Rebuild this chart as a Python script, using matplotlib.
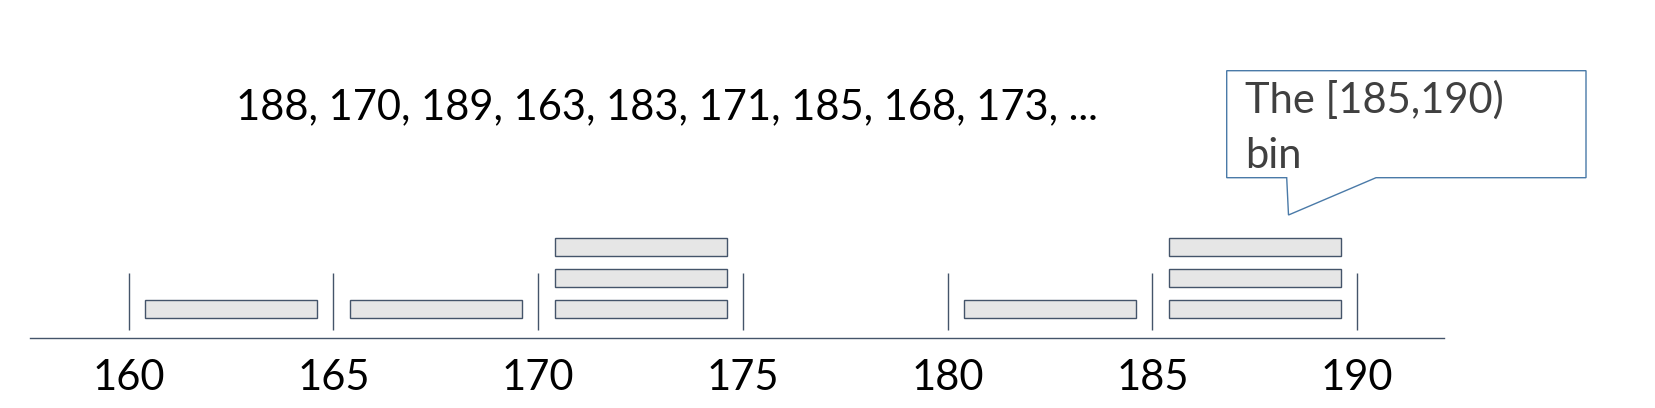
import numpy as np
import matplotlib
matplotlib.use('Agg')
import matplotlib.pyplot as plt
from matplotlib.patches import Polygon

# data
bin_edges = [160, 165, 170, 175, 180, 185, 190]
bin_counts = [1, 1, 3, 0, 1, 3]
sample_text = '188, 170, 189, 163, 183, 171, 185, 168, 173, ...'
callout_text = 'The [185,190)\nbin'
callout_bin = 5

plt.rcParams['font.family'] = ['Lato', 'DejaVu Sans']

W, H = 1656, 408
fig = plt.figure(figsize=(W / 100, H / 100), dpi=100)
ax = fig.add_axes([0, 0, 1, 1])
ax.set_axis_off()

# x in data units (cm), y in pixels from bottom
unit = (1357 - 128.8) / 30.0
x0 = bin_edges[0] - 128.8 / unit
ax.set_xlim(x0, x0 + W / unit)
ax.set_ylim(0, H)

def px(xp):
    return x0 + xp / unit

line_col = '#44546a'

# axis line
ax.plot([px(30), px(1444)], [70, 70], color=line_col, lw=1.0)

# bin edge ticks
ax.vlines(bin_edges, 78.5, 135.5, color=line_col, lw=1.0)
for e in bin_edges:
    ax.text(e, 30, str(e), ha='center', va='center', fontsize=30, color='black')

# stacked boxes, one per observation
for i, c in enumerate(bin_counts):
    for k in range(c):
        ax.bar(bin_edges[i] + 0.4, 18, width=4.2, bottom=90 + k * 31.2,
               align='edge', color='#e6e6e6', edgecolor=line_col, linewidth=1.0)

# sample values
ax.text(px(667), 301, sample_text, ha='center', va='center', fontsize=30, color='black')

# callout
tip_x = px(1288.5)
pts = [(px(1226.7), 337.3), (px(1586), 337.3), (px(1586), 230.3),
       (px(1376), 230.3), (tip_x, 193), (px(1286.7), 230.3), (px(1226.7), 230.3)]
ax.add_patch(Polygon(pts, closed=True, facecolor='white', edgecolor='#4a7aa8', lw=1.0))
line1, line2 = callout_text.split('\n')
ax.text(px(1245), 295.3, line1, ha='left', va='baseline', fontsize=30, color='#404040')
ax.text(px(1245), 239.5, line2, ha='left', va='baseline', fontsize=30, color='#404040')

fig.savefig('out.png', dpi=100)
